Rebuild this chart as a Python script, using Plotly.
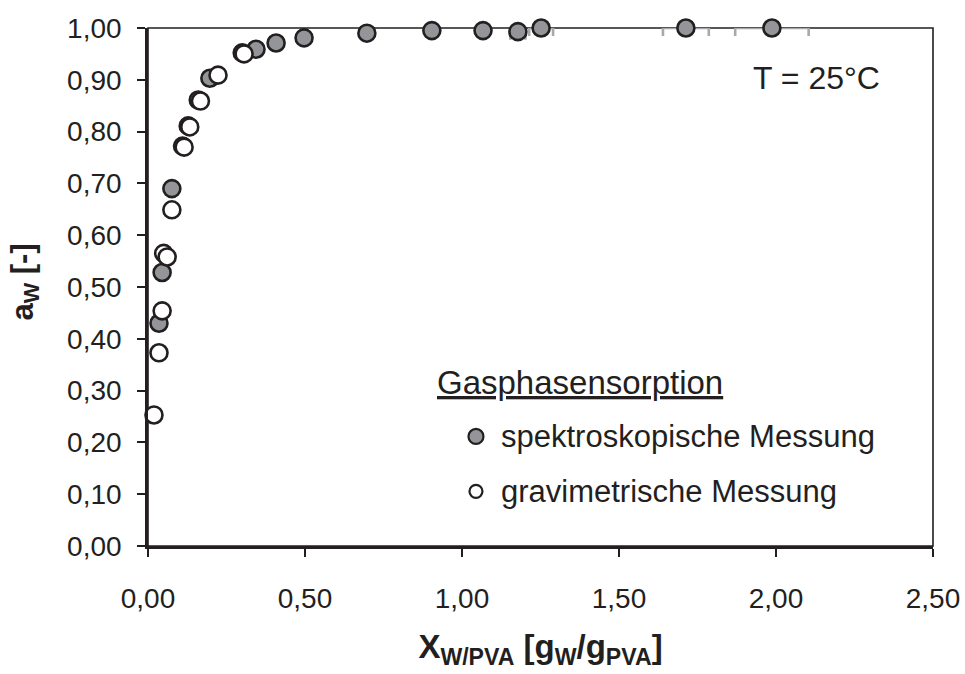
import plotly.graph_objects as go

# Water activity vs. water loading of PVA films, T = 25 °C
spek_x = [0.035, 0.045, 0.076, 0.197, 0.344, 0.408, 0.497, 0.697, 0.904, 1.067, 1.178, 1.252, 1.713, 1.987]
spek_y = [0.430, 0.528, 0.690, 0.903, 0.959, 0.971, 0.981, 0.990, 0.995, 0.995, 0.993, 1.000, 1.000, 1.000]
spek_err = [0.005, 0.005, 0.005, 0.008, 0.008, 0.008, 0.010, 0.012, 0.012, 0.012, 0.024, 0.038, 0.073, 0.117]

grav_x = [0.019, 0.035, 0.045, 0.050, 0.061, 0.076, 0.110, 0.115, 0.128, 0.133, 0.160, 0.167, 0.223, 0.300, 0.306]
grav_y = [0.253, 0.373, 0.454, 0.565, 0.558, 0.649, 0.772, 0.770, 0.811, 0.809, 0.861, 0.859, 0.909, 0.952, 0.950]

x_ticks = [0, 0.5, 1.0, 1.5, 2.0, 2.5]
y_ticks = [round(i * 0.1, 1) for i in range(11)]

FONT = "Liberation Sans, Arial, sans-serif"
GRAY = "#939598"
EDGE = "#231f20"

fig = go.Figure()

fig.add_trace(go.Scatter(
    x=spek_x, y=spek_y, mode="markers", name="spektroskopische Messung",
    marker=dict(size=17, color=GRAY, line=dict(color=EDGE, width=2.6)),
    error_x=dict(type="data", array=spek_err, color="#a7a9ac", thickness=2.6, width=8),
    cliponaxis=False, showlegend=False,
))
fig.add_trace(go.Scatter(
    x=grav_x, y=grav_y, mode="markers", name="gravimetrische Messung",
    marker=dict(size=17, color="white", line=dict(color=EDGE, width=2.6)),
    cliponaxis=False, showlegend=False,
))

# thin frame (top / right)
fig.add_shape(type="rect", xref="paper", yref="paper", x0=0, y0=0, x1=1, y1=1,
              line=dict(color=EDGE, width=1.6), layer="below")

# legend drawn by hand
fig.add_annotation(xref="paper", yref="paper", x=0.3660, y=0.315, xanchor="left", yanchor="middle",
                   text="<u>Gasphasensorption</u>", showarrow=False,
                   font=dict(family=FONT, size=33, color=EDGE))
leg_items = [("spektroskopische Messung", GRAY, 15, 0.2115),
             ("gravimetrische Messung", "white", 13, 0.1055)]
for label, fill, d, yp in leg_items:
    fig.add_shape(type="circle", xref="paper", yref="paper", xsizemode="pixel", ysizemode="pixel",
                  xanchor=0.4178, yanchor=yp, x0=-d / 2, x1=d / 2, y0=-d / 2, y1=d / 2,
                  fillcolor=fill, line=dict(color=EDGE, width=2.2))
    fig.add_annotation(xref="paper", yref="paper", x=0.4470, y=yp, xanchor="left", yanchor="middle",
                       text=label, showarrow=False,
                       font=dict(family=FONT, size=31, color=EDGE))

fig.add_annotation(xref="paper", yref="paper", x=0.851, y=0.903, xanchor="center", yanchor="middle",
                   text="T = 25°C", showarrow=False, font=dict(family=FONT, size=32, color=EDGE))

# y-axis title
fig.add_annotation(xref="paper", yref="paper", x=-0.157, y=0.51, xanchor="center", yanchor="middle",
                   text="<b>a<sub>W</sub> [-]</b>", textangle=-90, showarrow=False,
                   font=dict(family=FONT, size=31, color=EDGE))

fig.update_layout(
    width=965, height=674,
    margin=dict(l=148, r=32, t=28, b=128),
    paper_bgcolor="white", plot_bgcolor="white",
    separators=", ",
    font=dict(family=FONT, color=EDGE),
    xaxis=dict(
        range=[0, 2.5], tickvals=x_ticks, tickformat=".2f",
        showgrid=False, zeroline=False, automargin=False,
        showline=True, linecolor=EDGE, linewidth=2.6,
        ticks="outside", ticklen=8, tickwidth=2.2, tickcolor=EDGE,
        tickfont=dict(family=FONT, size=28, color=EDGE),
        ticklabelstandoff=18,
        title=dict(text="<b>X<sub>W/PVA</sub> [g<sub>W</sub>/g<sub>PVA</sub>]</b>",
                   font=dict(family=FONT, size=33, color=EDGE), standoff=22),
    ),
    yaxis=dict(
        range=[0, 1.0], tickvals=y_ticks, tickformat=".2f",
        showgrid=False, zeroline=False, automargin=False,
        showline=True, linecolor=EDGE, linewidth=2.6,
        ticks="outside", ticklen=8, tickwidth=2.2, tickcolor=EDGE,
        tickfont=dict(family=FONT, size=28, color=EDGE),
        ticklabelstandoff=10,
    ),
)

fig.write_html("out.html")
